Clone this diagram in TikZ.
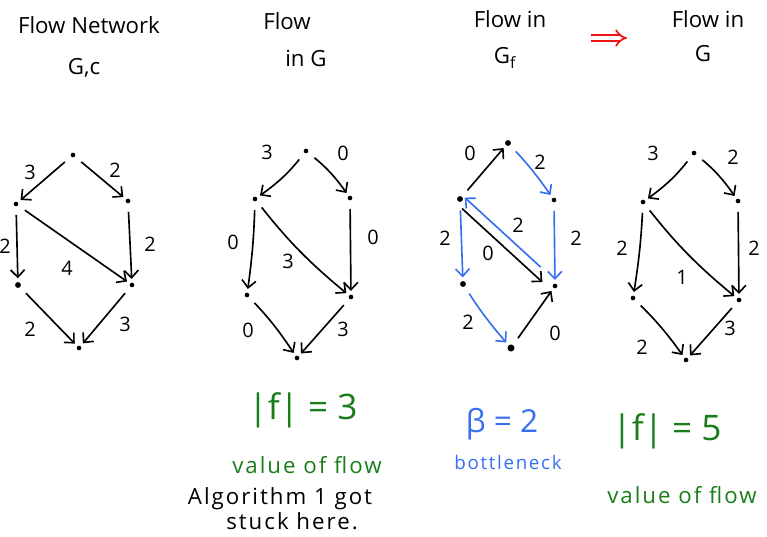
\documentclass[tikz,border=0pt]{standalone}
\usepackage{fontspec}
\setmainfont{Open Sans}
\newfontfamily\handfont[LetterSpace=9]{Open Sans}
\usetikzlibrary{arrows.meta,positioning}
\definecolor{flussgruen}{RGB}{25,125,25}
\definecolor{pfadblau}{RGB}{55,110,240}
\definecolor{pfeilrot}{RGB}{240,20,20}
\tikzset{
  knoten/.style={circle, fill=black, inner sep=0pt, minimum size=4pt},
  pfeil/.style={draw=black, line width=1.4pt, -{Straight Barb[length=2.2mm,width=4.2mm]}, shorten <=7pt, shorten >=3pt},
  blaupfeil/.style={pfeil, draw=pfadblau},
  wert/.style={font=\fontsize{17}{17}\selectfont, inner sep=0pt},
  titel/.style={font=\fontsize{19}{21}\selectfont, inner sep=0pt},
  gross/.style={font=\fontsize{30}{30}\selectfont, inner sep=0pt},
  notiz/.style={font=\handfont\fontsize{19}{19}\selectfont, inner sep=0pt}
}

\begin{document}
\begin{tikzpicture}[x=0.03cm, y=-0.03cm]
\useasboundingbox (0,0) rectangle (767,536);

% headings
\node[titel] (t1) at (89,25) {Flow Network};
\node[titel] (t1b) at (84,68) {G,c};
\node[titel] (t2) at (287,21) {Flow};
\node[titel] (t2b) at (306,58) {in G};
\node[titel] (t3) at (510,19) {Flow in};
\node[titel] (t3b) at (505,58) {G\textsubscript{f}};
\node[titel] (t4) at (708,19) {Flow in};
\node[titel] (t4b) at (703,54) {G};
\coordinate (r-a) at (591,38);
\coordinate (r-b) at (627,38);
\draw[pfeilrot, line width=1.5pt, double distance=3.5pt, -{Implies}] (r-a) -- (r-b);

% network G,c
\node[knoten] (a-s) at (73,155) {};
\node[knoten] (a-u) at (16,204) {};
\node[knoten] (a-v) at (128,201) {};
\node[knoten, minimum size=5pt] (a-w) at (18,285) {};
\node[knoten] (a-x) at (132,285) {};
\node[knoten] (a-t) at (79,348) {};
\foreach \p/\q in {a-s/a-u, a-s/a-v, a-u/a-w, a-u/a-x, a-v/a-x, a-w/a-t, a-x/a-t}{\draw[pfeil] (\p) -- (\q);}
\foreach \n/\x/\y/\t in {l0/5/246/2, l1/30/172/3, l2/115/170/2, l3/150/244/2, l4/67/268/4, l5/30/329/2, l6/125/324/3}{\node[wert] (a-\n) at (\x,\y) {\t};}

% flow in G
\node[knoten] (b-s) at (306,151) {};
\node[knoten] (b-u) at (255,199) {};
\node[knoten] (b-v) at (350,198) {};
\node[knoten] (b-w) at (247,295) {};
\node[knoten] (b-x) at (351,297) {};
\node[knoten] (b-t) at (297,358) {};
\draw[pfeil] (b-s) to[bend left=8] (b-u);
\draw[pfeil] (b-s) to[bend left=8] (b-v);
\draw[pfeil] (b-u) to[bend left=3] (b-w);
\draw[pfeil] (b-u) to[bend right=6] (b-x);
\draw[pfeil] (b-v) -- (b-x);
\draw[pfeil] (b-w) to[bend left=5] (b-t);
\draw[pfeil] (b-x) -- (b-t);
\foreach \n/\x/\y/\t in {l1/267/152/3, l2/343/153/0, l3/233/242/0, l4/288/261/3, l5/373/237/0, l6/248/330/0, l7/343/329/3}{\node[wert] (b-\n) at (\x,\y) {\t};}

% flow in G_f
\node[knoten, minimum size=5pt] (c-s) at (508,143) {};
\node[knoten, minimum size=5pt] (c-u) at (460,199) {};
\node[knoten] (c-v) at (554,200) {};
\node[knoten, minimum size=5pt] (c-w) at (463,284) {};
\node[knoten] (c-x) at (555,286) {};
\node[knoten, minimum size=6pt] (c-t) at (511,348) {};
\draw[pfeil] (c-u) -- (c-s);
\draw[blaupfeil] (c-s) to[bend left=4] (c-v);
\draw[blaupfeil] (c-u) -- (c-w);
\draw[blaupfeil] (c-v) -- (c-x);
\draw[blaupfeil] (c-w) to[bend right=4] (c-t);
\draw[pfeil] (c-t) -- (c-x);
\draw[blaupfeil, shorten <=20pt, shorten >=2pt] ([shift={(3,-3)}]c-x.center) -- ([shift={(3,-3)}]c-u.center);
\draw[pfeil, shorten <=7pt, shorten >=10pt] ([shift={(-4,4)}]c-u.center) -- ([shift={(-4,4)}]c-x.center);
\foreach \n/\x/\y/\t in {l1/470/153/0, l2/540/162/2, l3/445/238/2, l4/518/225/2, l5/488/253/0, l6/576/238/2, l7/468/322/2, l8/555/333/0}{\node[wert] (c-\n) at (\x,\y) {\t};}

% new flow in G
\node[knoten] (d-s) at (694,153) {};
\node[knoten] (d-u) at (643,202) {};
\node[knoten] (d-v) at (738,201) {};
\node[knoten] (d-w) at (633,298) {};
\node[knoten] (d-x) at (739,300) {};
\node[knoten] (d-t) at (686,360) {};
\draw[pfeil] (d-s) to[bend left=8] (d-u);
\draw[pfeil] (d-s) to[bend left=8] (d-v);
\draw[pfeil] (d-u) to[bend left=3] (d-w);
\draw[pfeil] (d-u) to[bend right=6] (d-x);
\draw[pfeil] (d-v) -- (d-x);
\draw[pfeil] (d-w) to[bend left=5] (d-t);
\draw[pfeil] (d-x) -- (d-t);
\foreach \n/\x/\y/\t in {l1/653/153/3, l2/733/157/2, l3/622/248/2, l4/682/277/1, l5/754/248/2, l6/642/347/2, l7/730/328/3}{\node[wert] (d-\n) at (\x,\y) {\t};}

% values
\node[gross, text=flussgruen] (f1) at (303,410) {|f| = 3};
\node[notiz, text=flussgruen] (f1t) at (307,465) {value of flow};
\node[notiz] (g1) at (280,499) {Algorithm 1 got};
\node[notiz] (g2) at (292,521) {stuck here.};
\node[gross, text=pfadblau, font=\fontsize{27}{27}\selectfont] (b1) at (502,424) {β = 2};
\node[notiz, text=pfadblau, font=\handfont\fontsize{16}{16}\selectfont] (b1t) at (508,462) {bottleneck};
\node[gross, text=flussgruen] (f2) at (667,431) {|f| = 5};
\node[notiz, text=flussgruen] (f2t) at (682,495) {value of flow};
\end{tikzpicture}
\end{document}
